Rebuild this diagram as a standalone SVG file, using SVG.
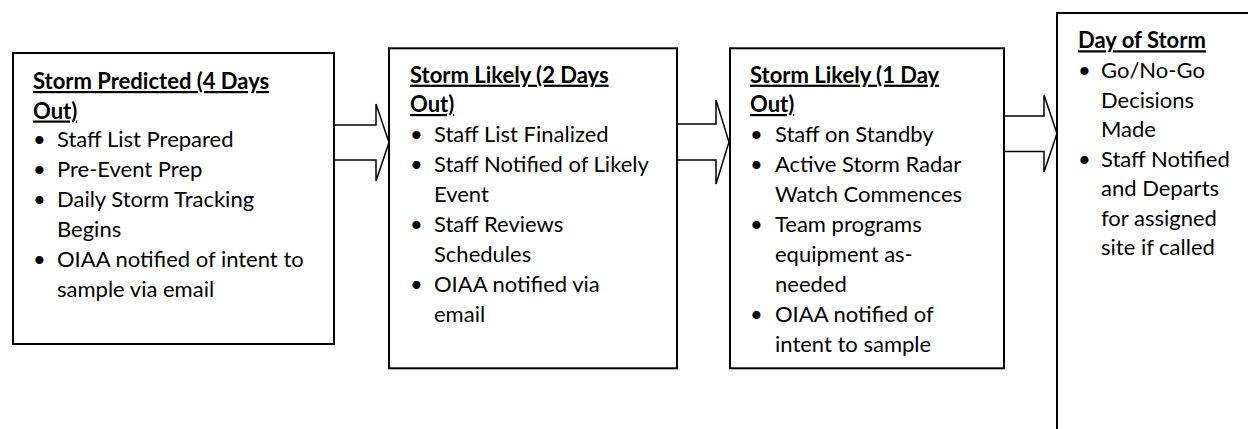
<svg xmlns="http://www.w3.org/2000/svg" width="1248" height="429" viewBox="0 0 1248 429">
<style>
.box{fill:#fff;stroke:#000;stroke-width:2}
.arrow{fill:#fff;stroke:#000;stroke-width:1.5;stroke-linejoin:miter}
text{font-family:Lato,"Open Sans","Liberation Sans",sans-serif;font-size:22px;fill:#000}
.t{font-weight:bold;text-decoration:underline}
.b{font-size:22px}
</style>
<rect width="1248" height="429" fill="#fff"/>
<g id="node-1">
<rect class="box" x="13" y="53" width="321" height="291"/>
<text class="t" x="33" y="89">Storm Predicted (4 Days</text>
<text class="t" x="33" y="118.5">Out)</text>
<text class="b" x="33" y="147.3">•</text><text x="57" y="147.3">Staff List Prepared</text>
<text class="b" x="33" y="177.2">•</text><text x="57" y="177.2">Pre-Event Prep</text>
<text class="b" x="33" y="207.1">•</text><text x="57" y="207.1">Daily Storm Tracking</text>
<text x="57" y="237">Begins</text>
<text class="b" x="33" y="266.9">•</text><text x="57" y="266.9">OIAA notified of intent to</text>
<text x="57" y="296.8">sample via email</text>
</g>
<g id="node-2">
<rect class="box" x="389" y="48.3" width="288" height="320"/>
<text class="t" x="410" y="82.7">Storm Likely (2 Days</text>
<text class="t" x="410" y="112">Out)</text>
<text class="b" x="410" y="141.7">•</text><text x="434" y="141.7">Staff List Finalized</text>
<text class="b" x="410" y="171.7">•</text><text x="434" y="171.7">Staff Notified of Likely</text>
<text x="434" y="201.7">Event</text>
<text class="b" x="410" y="231.7">•</text><text x="434" y="231.7">Staff Reviews</text>
<text x="434" y="261.7">Schedules</text>
<text class="b" x="410" y="291.7">•</text><text x="434" y="291.7">OIAA notified via</text>
<text x="434" y="321.7">email</text>
</g>
<g id="node-3">
<rect class="box" x="730" y="48.3" width="274" height="320"/>
<text class="t" x="750" y="82.7">Storm Likely (1 Day</text>
<text class="t" x="750" y="112">Out)</text>
<text class="b" x="750" y="141.7">•</text><text x="775" y="141.7">Staff on Standby</text>
<text class="b" x="750" y="171.7">•</text><text x="775" y="171.7">Active Storm Radar</text>
<text x="775" y="201.7">Watch Commences</text>
<text class="b" x="750" y="231.7">•</text><text x="775" y="231.7">Team programs</text>
<text x="775" y="261.7">equipment as-</text>
<text x="775" y="291.7">needed</text>
<text class="b" x="750" y="321.7">•</text><text x="775" y="321.7">OIAA notified of</text>
<text x="775" y="351.7">intent to sample</text>
</g>
<g id="node-4">
<rect class="box" x="1057" y="13" width="220" height="440"/>
<text class="t" x="1078" y="48.3">Day of Storm</text>
<text class="b" x="1078" y="78.3">•</text><text x="1101" y="78.3">Go/No-Go</text>
<text x="1101" y="107.8">Decisions</text>
<text x="1101" y="137.3">Made</text>
<text class="b" x="1078" y="166.8">•</text><text x="1101" y="166.8">Staff Notified</text>
<text x="1101" y="196.3">and Departs</text>
<text x="1101" y="225.8">for assigned</text>
<text x="1101" y="255.3">site if called</text>
</g>
<g id="connectors">
<path class="arrow" d="M335,125 H376 V104 L389,142.5 L376,181 V160 H335"/>
<path class="arrow" d="M678,124 H716 V100 L729,142 L716,184 V160 H678"/>
<path class="arrow" d="M1005,116 H1044 V95 L1057,133.5 L1044,172 V151.5 H1005"/>
</g>
</svg>
